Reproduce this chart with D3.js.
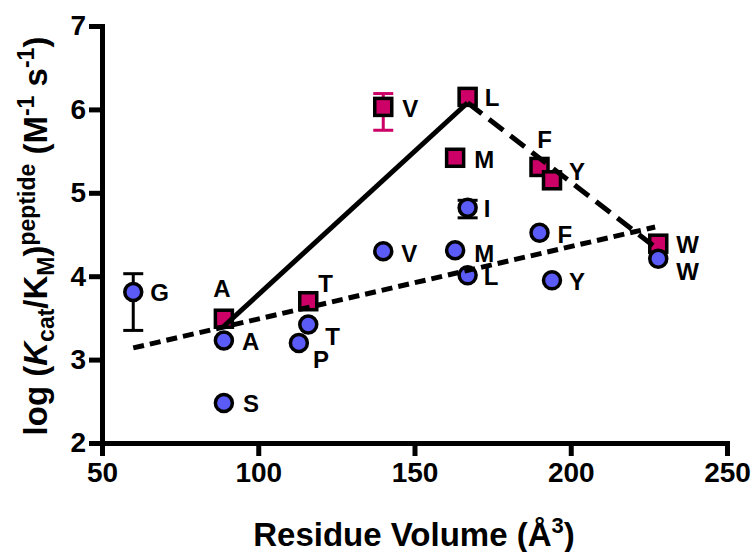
<!DOCTYPE html>
<html>
<head>
<meta charset="utf-8">
<script src="https://cdn.jsdelivr.net/npm/d3@7/dist/d3.min.js"></script>
<style>
  body { margin: 0; background: #fff; }
  svg { display: block; font-family: "Liberation Sans", Arial, sans-serif; font-weight: bold; }
  .axis path, .axis line { stroke: #000; stroke-width: 5; }
  .axis text { font-size: 28px; font-weight: bold; fill: #000; }
  .lbl { font-size: 24px; fill: #000; }
</style>
</head>
<body>
<svg width="752" height="552"></svg>
<script>
// peptide set shown as squares
var sqRes = ["A", "T", "V", "L", "M", "F", "Y", "W"];
var sqVol = [89, 116, 140, 167, 163, 190, 194, 228];
var sqLog = [3.49, 3.70, 6.03, 6.15, 5.42, 5.31, 5.15, 4.39];
var sqErrLo = [null, null, 5.75, null, null, null, null, null];
var sqErrHi = [null, null, 6.19, null, null, null, null, null];

// peptide set shown as circles
var cRes = ["G", "A", "S", "P", "T", "V", "M", "I", "L", "F", "Y", "W"];
var cVol = [60, 89, 89, 113, 116, 140, 163, 167, 167, 190, 194, 228];
var cLog = [3.81, 3.23, 2.48, 3.20, 3.42, 4.30, 4.31, 4.82, 4.01, 4.52, 3.95, 4.21];
var cErrLo = [3.35, null, null, null, null, null, null, 4.70, null, null, null, null];
var cErrHi = [4.03, null, null, null, null, null, null, 4.91, null, null, null, null];

// fitted lines
var riseX = [89, 167], riseY = [3.40, 6.08];
var fallX = [167, 228], fallY = [6.08, 4.32];
var fitX = [60, 227], fitY = [3.14, 4.59];

var xTicks = [50, 100, 150, 200, 250];
var yTicks = [2, 3, 4, 5, 6, 7];

// label offsets (px) relative to the marker
var sqLblOff = [[-2, -22, "middle"], [10, -9, "start"], [19, 10, "start"], [17, 9, "start"],
                [19, 10, "start"], [5, -19, "middle"], [17, 0, "start"], [18, 9, "start"]];
var cLblOff = [[17, 9], [18, 10], [19, 9], [14, 25], [17, 20], [18, 11],
               [19, 12], [16, 9], [16, 10], [18, 10], [17, 10], [18, 21]];

var red = "#cc0066", blue = "#5b5bf7";

var svg = d3.select("svg");
var x = d3.scaleLinear().domain([50, 250]).range([102, 727]),
  y = d3.scaleLinear().domain([2, 7]).range([443, 26]);

svg.append("g")
  .attr("class", "axis")
  .attr("transform", "translate(0,443)")
  .call(d3.axisBottom(x).tickValues(xTicks).tickFormat(d3.format("d"))
    .tickSize(13).tickSizeOuter(0).tickPadding(6));

svg.append("g")
  .attr("class", "axis")
  .attr("transform", "translate(102,0)")
  .call(d3.axisLeft(y).tickValues(yTicks).tickFormat(d3.format("d"))
    .tickSize(13).tickSizeOuter(0).tickPadding(3));

svg.selectAll(".axis .domain").attr("stroke-linecap", "square");

function pts(xs, ys) {
  return xs.map(function (v, i) { return [v, ys[i]]; });
}
var line = d3.line()
  .x(function (d) { return x(d[0]); })
  .y(function (d) { return y(d[1]); });

function errBars(xs, lo, hi, color) {
  var d = xs.map(function (v, i) { return { x: v, lo: lo[i], hi: hi[i] }; })
    .filter(function (d) { return d.lo != null; });
  var g = svg.append("g").attr("stroke", color).attr("stroke-width", 3);
  g.selectAll(".v").data(d).enter().append("line")
    .attr("x1", function (d) { return x(d.x); })
    .attr("x2", function (d) { return x(d.x); })
    .attr("y1", function (d) { return y(d.lo); })
    .attr("y2", function (d) { return y(d.hi); });
  [ "lo", "hi" ].forEach(function (k) {
    g.selectAll(".c" + k).data(d).enter().append("line")
      .attr("x1", function (d) { return x(d.x) - 10; })
      .attr("x2", function (d) { return x(d.x) + 10; })
      .attr("y1", function (d) { return y(d[k]); })
      .attr("y2", function (d) { return y(d[k]); });
  });
}

errBars(cVol, cErrLo, cErrHi, "#000");
errBars(sqVol, sqErrLo, sqErrHi, red);

svg.append("g").selectAll("rect")
  .data(sqVol).enter().append("rect")
  .attr("x", function (d) { return x(d) - 8.5; })
  .attr("y", function (d, i) { return y(sqLog[i]) - 8.5; })
  .attr("width", 17).attr("height", 17)
  .attr("fill", red).attr("stroke", "#000").attr("stroke-width", 3.5);

svg.append("g").selectAll("circle")
  .data(cVol).enter().append("circle")
  .attr("cx", function (d) { return x(d); })
  .attr("cy", function (d, i) { return y(cLog[i]); })
  .attr("r", 8.5)
  .attr("fill", blue).attr("stroke", "#000").attr("stroke-width", 3.5);

svg.append("path").datum(pts(riseX, riseY)).attr("d", line)
  .attr("fill", "none").attr("stroke", "#000").attr("stroke-width", 5);
svg.append("path").datum(pts(fallX, fallY)).attr("d", line)
  .attr("fill", "none").attr("stroke", "#000").attr("stroke-width", 5)
  .attr("stroke-dasharray", "18,9");
svg.append("path").datum(pts(fitX, fitY)).attr("d", line)
  .attr("fill", "none").attr("stroke", "#000").attr("stroke-width", 5)
  .attr("stroke-dasharray", "11,6");

svg.append("g").selectAll("text")
  .data(sqRes).enter().append("text")
  .attr("class", "lbl")
  .attr("x", function (d, i) { return x(sqVol[i]) + sqLblOff[i][0]; })
  .attr("y", function (d, i) { return y(sqLog[i]) + sqLblOff[i][1]; })
  .attr("text-anchor", function (d, i) { return sqLblOff[i][2]; })
  .text(function (d) { return d; });

svg.append("g").selectAll("text")
  .data(cRes).enter().append("text")
  .attr("class", "lbl")
  .attr("x", function (d, i) { return x(cVol[i]) + cLblOff[i][0]; })
  .attr("y", function (d, i) { return y(cLog[i]) + cLblOff[i][1]; })
  .text(function (d) { return d; });

// axis titles
var xt = svg.append("text")
  .attr("x", 414).attr("y", 546)
  .attr("text-anchor", "middle")
  .style("font-size", "33px");
xt.append("tspan").text("Residue Volume (Å");
xt.append("tspan").attr("dy", -13).style("font-size", "22px").text("3");
xt.append("tspan").attr("dy", 13).text(")");

var yt = svg.append("text")
  .attr("transform", "translate(47,236) rotate(-90)")
  .attr("text-anchor", "middle")
  .style("font-size", "33px");
yt.append("tspan").text("log (");
yt.append("tspan").style("font-style", "italic").text("K");
yt.append("tspan").attr("dy", 7).style("font-size", "23px").text("cat");
yt.append("tspan").attr("dy", -7).text("/K");
yt.append("tspan").attr("dy", 7).style("font-size", "23px").text("M");
yt.append("tspan").attr("dy", -7).text(")");
yt.append("tspan").attr("dy", -12).style("font-size", "23px").text("peptide");
yt.append("tspan").attr("dy", 12).text(" (M");
yt.append("tspan").attr("dy", -13).style("font-size", "23px").text("-1");
yt.append("tspan").attr("dy", 13).text(" s");
yt.append("tspan").attr("dy", -13).style("font-size", "23px").text("-1");
yt.append("tspan").attr("dy", 13).text(")");
</script>
</body>
</html>
